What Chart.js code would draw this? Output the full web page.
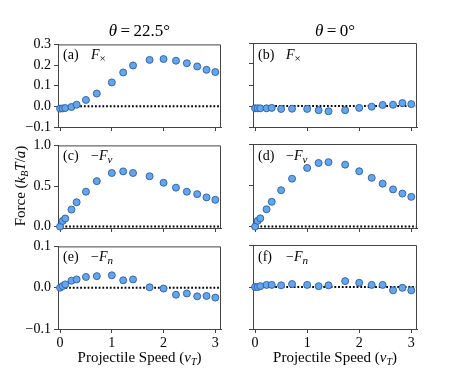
<!DOCTYPE html>
<html>
<head>
<meta charset="utf-8">
<script src="https://cdn.jsdelivr.net/npm/chart.js@4.4.0/dist/chart.umd.min.js"></script>
<style>
  body { margin: 0; background: #fff; }
  #fig { position: relative; width: 463px; height: 370px; font-family: 'Liberation Serif', serif; color: #000; }
  #fig canvas { position: absolute; }
  .txt { position: absolute; white-space: nowrap; line-height: 1; }
  .title { font-size: 17px; text-align: center; }
  .xlab { font-size: 15px; text-align: center; }
  .plab { font-size: 14px; }
  .plab sub { font-size: 11px; vertical-align: -3px; }
  .ylab { font-size: 15px; height: 16px; line-height: 16px; transform: rotate(-90deg); transform-origin: 60px 8px; text-align: center; color: #000; font-weight: normal; }
</style>
</head>
<body>
<div id="fig"></div>
<script>
// projectile speed (v_T)
const speed = [0, 0.05, 0.1, 0.22, 0.32, 0.5, 0.71, 1.0, 1.22, 1.41, 1.73, 2.0, 2.24, 2.45, 2.65, 2.83, 3.0];

// theta = 22.5 deg
const fxTilted = [-0.011, -0.010, -0.008, -0.003, 0.008, 0.031, 0.062, 0.116, 0.164, 0.198, 0.225, 0.229, 0.221, 0.209, 0.193, 0.177, 0.166];
const fvTilted = [0.0, 0.07, 0.10, 0.21, 0.30, 0.43, 0.56, 0.66, 0.68, 0.66, 0.62, 0.54, 0.48, 0.43, 0.40, 0.36, 0.33];
const fnTilted = [0.0, 0.004, 0.008, 0.017, 0.020, 0.026, 0.028, 0.030, 0.018, 0.020, 0.001, -0.002, -0.017, -0.014, -0.021, -0.020, -0.024];

// theta = 0 deg
const fxZero = [-0.011, -0.011, -0.011, -0.011, -0.009, -0.014, -0.013, -0.014, -0.020, -0.025, -0.020, -0.009, -0.003, 0.005, 0.006, 0.014, 0.009];
const fvZero = [0.0, 0.07, 0.10, 0.21, 0.30, 0.44, 0.58, 0.71, 0.77, 0.78, 0.75, 0.67, 0.59, 0.52, 0.45, 0.40, 0.36];
const fnZero = [0.0, 0.0, 0.002, 0.005, 0.005, 0.004, 0.007, 0.005, 0.002, 0.004, 0.014, 0.010, 0.005, 0.005, -0.008, -0.002, -0.008];

const xTicks = [0, 1, 2, 3];
const xRange = [-0.04, 3.11];
const rowTicks = [[-0.1, 0.0, 0.1, 0.2, 0.3], [0.0, 0.5, 1.0], [-0.1, 0.0, 0.1]];
const rowRanges = [[-0.1, 0.3], [-0.017, 1.0], [-0.1, 0.1]];
const colTitles = ['\u03b8\u2009=\u200922.5\u00b0', '\u03b8\u2009=\u20090\u00b0'];
const panelTags = ['(a)', '(b)', '(c)', '(d)', '(e)', '(f)'];
const panelNames = ['<i>F</i><sub>\u00d7</sub>', '<i>F</i><sub>\u00d7</sub>', '\u2212<i>F<sub>v</sub></i>', '\u2212<i>F<sub>v</sub></i>', '\u2212<i>F<sub>n</sub></i>', '\u2212<i>F<sub>n</sub></i>'];
const series = [fxTilted, fxZero, fvTilted, fvZero, fnTilted, fnZero];

// layout (px)
const colLeft = [58, 253], colWidth = [163, 164];
const rowTop = [43, 144, 245], rowHeight = 84;
const AX_W = 50, PAD_T = 10, PAD_R = 8, AX_H = 26;

const fig = document.getElementById('fig');

const framePlugin = {
  id: 'frame',
  afterDraw(chart) {
    const a = chart.chartArea, c = chart.ctx;
    c.save();
    c.strokeStyle = '#444';
    c.lineWidth = 1;
    c.beginPath();
    c.moveTo(a.left, a.top + 0.5);
    c.lineTo(a.right - 0.5, a.top + 0.5);
    c.lineTo(a.right - 0.5, a.bottom);
    c.stroke();
    c.restore();
  }
};

function fmt(v) {
  const s = Math.abs(v).toFixed(1);
  return v < -1e-9 ? '\u2212' + s : s;
}

for (let r = 0; r < 3; r++) {
  for (let col = 0; col < 2; col++) {
    const idx = r * 2 + col;
    const cv = document.createElement('canvas');
    const w = colWidth[col] + AX_W + PAD_R, h = rowHeight + PAD_T + AX_H;
    cv.width = w; cv.height = h;
    cv.style.left = (colLeft[col] - AX_W) + 'px';
    cv.style.top = (rowTop[r] - PAD_T) + 'px';
    cv.style.width = w + 'px'; cv.style.height = h + 'px';
    fig.appendChild(cv);

    const pts = speed.map((x, i) => ({ x: x, y: series[idx][i] }));
    new Chart(cv.getContext('2d'), {
      type: 'scatter',
      data: {
        datasets: [{
          data: pts,
          backgroundColor: '#65a5ea',
          borderColor: '#2a5ca3',
          borderWidth: 0.9,
          pointRadius: 3.5,
          clip: false
        }, {
          data: [{ x: xRange[0], y: 0 }, { x: xRange[1], y: 0 }],
          showLine: true,
          borderColor: '#000',
          borderWidth: 2,
          borderDash: [1.8, 1.9],
          pointRadius: 0
        }]
      },
      options: {
        responsive: false,
        animation: false,
        devicePixelRatio: 1,
        layout: { padding: { left: 0, top: PAD_T, right: PAD_R, bottom: 0 } },
        plugins: { legend: { display: false }, tooltip: { enabled: false } },
        scales: {
          x: {
            type: 'linear', min: xRange[0], max: xRange[1],
            afterBuildTicks: s => { s.ticks = xTicks.map(v => ({ value: v })); },
            afterFit: s => { s.height = AX_H; },
            grid: { drawOnChartArea: false, drawTicks: true, tickLength: 4, color: '#444' },
            border: { color: '#444', width: 1 },
            ticks: {
              display: r === 2,
              padding: 2,
              color: '#000',
              font: { family: 'Liberation Serif', size: 14 },
              callback: v => String(v)
            }
          },
          y: {
            type: 'linear', min: rowRanges[r][0], max: rowRanges[r][1],
            afterBuildTicks: s => { s.ticks = rowTicks[r].map(v => ({ value: v })); },
            afterFit: s => { s.width = AX_W; },
            grid: { drawOnChartArea: false, drawTicks: true, tickLength: 4, color: '#444' },
            border: { color: '#444', width: 1 },
            ticks: {
              display: col === 0,
              padding: 3,
              color: '#000',
              font: { family: 'Liberation Serif', size: 14 },
              callback: v => fmt(v)
            }
          }
        }
      },
      plugins: [framePlugin]
    });

    const tag = document.createElement('div');
    tag.className = 'txt plab';
    tag.style.left = (colLeft[col] + 5) + 'px';
    tag.style.top = (rowTop[r] + 5) + 'px';
    tag.textContent = panelTags[idx];
    fig.appendChild(tag);

    const nm = document.createElement('div');
    nm.className = 'txt plab';
    nm.style.left = (colLeft[col] + 33) + 'px';
    nm.style.top = (rowTop[r] + 5) + 'px';
    nm.innerHTML = panelNames[idx];
    fig.appendChild(nm);
  }
}

for (let col = 0; col < 2; col++) {
  const t = document.createElement('div');
  t.className = 'txt title';
  t.style.left = colLeft[col] + 'px';
  t.style.width = colWidth[col] + 'px';
  t.style.top = '22px';
  t.innerHTML = colTitles[col].replace('\u03b8', '<i>\u03b8</i>');
  fig.appendChild(t);

  const xl = document.createElement('div');
  xl.className = 'txt xlab';
  xl.style.left = colLeft[col] + 'px';
  xl.style.width = colWidth[col] + 'px';
  xl.style.top = '350px';
  xl.innerHTML = 'Projectile Speed (<i>v<sub style="font-size:10px;vertical-align:-3px">T</sub></i>)';
  fig.appendChild(xl);
}

const yl = document.createElement('div');
yl.className = 'txt ylab';
yl.style.width = '120px';
yl.style.left = (20 - 60) + 'px';
yl.style.top = (186 - 8) + 'px';
yl.innerHTML = 'Force (<i>k<sub style="font-size:10px;vertical-align:-3px">B</sub>T</i>/<i>a</i>)';
fig.appendChild(yl);
</script>
</body>
</html>
